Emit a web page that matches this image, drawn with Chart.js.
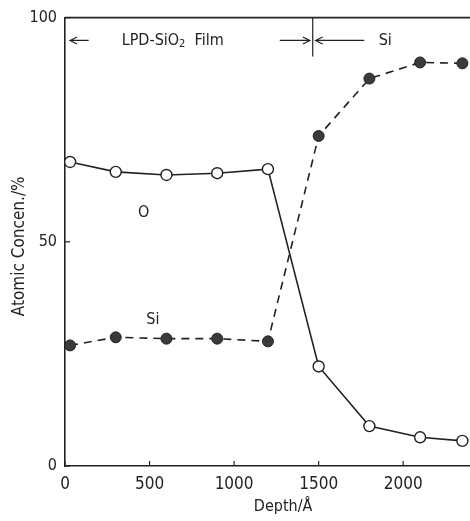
<!DOCTYPE html>
<html>
<head>
<meta charset="utf-8">
<script src="https://cdn.jsdelivr.net/npm/chart.js@4.4.1/dist/chart.umd.min.js"></script>
<style>
  html, body { margin: 0; padding: 0; background: #fff; overflow: hidden; }
  #wrap { width: 470px; height: 521px; position: relative; }
</style>
</head>
<body>
<div id="wrap"><canvas id="grafico"></canvas></div>
<script>
const depth = [30, 300, 600, 900, 1200, 1500, 1800, 2100, 2350]
const oxigenio = [67.8, 65.6, 64.9, 65.3, 66.2, 22.2, 8.9, 6.4, 5.6]
const silicio = [26.9, 28.7, 28.4, 28.4, 27.8, 73.6, 86.4, 90.0, 89.8]
const xTicks = [0, 500, 1000, 1500, 2000]
const yTicks = [0, 50, 100]

const fonte = '"Liberation Sans Narrow", "DejaVu Sans Condensed", sans-serif'
const tinta = '#222'

// tudo que nao e serie: moldura, ticks internos, textos e setas
const extras = {
    id: 'extras',
    afterDraw(chart) {
        const ctx = chart.ctx
        const a = chart.chartArea
        const x = chart.scales.x
        const y = chart.scales.y
        ctx.save()
        ctx.strokeStyle = tinta
        ctx.fillStyle = tinta
        ctx.lineWidth = 1.6

        // linha do topo
        ctx.beginPath()
        ctx.moveTo(a.left, a.top)
        ctx.lineTo(a.right, a.top)
        ctx.stroke()

        // ticks pra dentro
        ctx.lineWidth = 1.2
        xTicks.forEach(v => {
            const px = x.getPixelForValue(v)
            ctx.beginPath()
            ctx.moveTo(px, a.bottom)
            ctx.lineTo(px, a.bottom - 5)
            ctx.stroke()
        })
        yTicks.forEach(v => {
            const py = y.getPixelForValue(v)
            ctx.beginPath()
            ctx.moveTo(a.left, py)
            ctx.lineTo(a.left + 5, py)
            ctx.stroke()
        })

        // limite filme / substrato
        const bx = x.getPixelForValue(1465)
        ctx.lineWidth = 1.2
        ctx.beginPath()
        ctx.moveTo(bx, y.getPixelForValue(100))
        ctx.lineTo(bx, y.getPixelForValue(91.3))
        ctx.stroke()

        const ay = y.getPixelForValue(94.9)
        const seta = (de, para) => {
            const x1 = x.getPixelForValue(de)
            const x2 = x.getPixelForValue(para)
            const d = x2 > x1 ? -1 : 1
            ctx.beginPath()
            ctx.moveTo(x1, ay)
            ctx.lineTo(x2, ay)
            ctx.moveTo(x2 + d * 7, ay - 3.5)
            ctx.lineTo(x2, ay)
            ctx.lineTo(x2 + d * 7, ay + 3.5)
            ctx.stroke()
        }
        seta(140, 30)
        seta(1270, 1448)
        seta(1770, 1482)

        ctx.font = '16px ' + fonte
        ctx.textBaseline = 'middle'
        ctx.textAlign = 'left'
        let tx = x.getPixelForValue(335)
        ctx.fillText('LPD-SiO', tx, ay)
        tx += ctx.measureText('LPD-SiO').width
        ctx.font = '11px ' + fonte
        ctx.fillText('2', tx, ay + 4)
        tx += ctx.measureText('2').width
        ctx.font = '16px ' + fonte
        ctx.fillText('  Film', tx, ay)
        ctx.fillText('Si', x.getPixelForValue(1855), ay)

        // rotulos das curvas
        ctx.textAlign = 'center'
        ctx.fillText('O', x.getPixelForValue(465), y.getPixelForValue(56.5))
        ctx.fillText('Si', x.getPixelForValue(520), y.getPixelForValue(32.5))

        // titulos dos eixos
        ctx.font = '16px ' + fonte
        ctx.fillText('Depth/Å', x.getPixelForValue(1290), 507)
        ctx.translate(20, y.getPixelForValue(49))
        ctx.rotate(-Math.PI / 2)
        ctx.font = '17px ' + fonte
        ctx.fillText('Atomic Concen./%', 0, 0)
        ctx.restore()
    }
}

const config = {
    type: 'line',
    data: {
        datasets: [{
            label: 'O',
            data: depth.map((d, i) => ({ x: d, y: oxigenio[i] })),
            borderColor: tinta,
            borderWidth: 1.6,
            pointStyle: 'circle',
            pointRadius: 5.5,
            pointBorderWidth: 1.4,
            pointBackgroundColor: '#fff',
            pointBorderColor: tinta,
            tension: 0
        }, {
            label: 'Si',
            data: depth.map((d, i) => ({ x: d, y: silicio[i] })),
            borderColor: tinta,
            borderWidth: 1.6,
            borderDash: [8, 6],
            pointStyle: 'circle',
            pointRadius: 5.5,
            pointBorderWidth: 1,
            pointBackgroundColor: '#3a3a3a',
            pointBorderColor: tinta,
            tension: 0
        }]
    },
    options: {
        responsive: true,
        maintainAspectRatio: false,
        animation: false,
        layout: { autoPadding: false, padding: { left: 0, right: 0, top: 16, bottom: 0 } },
        plugins: {
            legend: { display: false },
            tooltip: { enabled: false }
        },
        scales: {
            x: {
                type: 'linear',
                min: 0,
                max: 2395,
                afterFit: s => { s.height = 55; s.paddingRight = 0 },
                afterBuildTicks: s => { s.ticks = xTicks.map(v => ({ value: v })) },
                grid: { display: false, drawTicks: false },
                border: { display: true, color: tinta, width: 1.6 },
                ticks: {
                    color: tinta,
                    padding: 8,
                    maxRotation: 0,
                    callback: v => String(v),
                    font: { family: fonte, size: 17 }
                }
            },
            y: {
                type: 'linear',
                min: 0,
                max: 100,
                afterFit: s => { s.width = 65 },
                afterBuildTicks: s => { s.ticks = yTicks.map(v => ({ value: v })) },
                grid: { display: false, drawTicks: false },
                border: { display: true, color: tinta, width: 1.6 },
                ticks: {
                    color: tinta,
                    padding: 8,
                    callback: v => String(v),
                    font: { family: fonte, size: 16 }
                }
            }
        }
    },
    plugins: [extras]
}

const meuGrafico = new Chart(document.getElementById('grafico'), config)
</script>
</body>
</html>
